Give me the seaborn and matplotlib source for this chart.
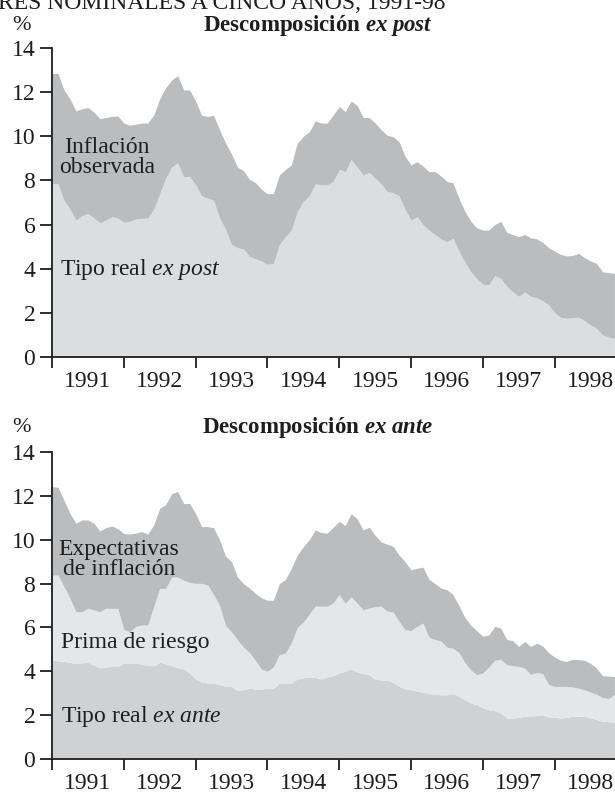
import numpy as np
import pandas as pd
import matplotlib
matplotlib.use("Agg")
import matplotlib.pyplot as plt
import seaborn as sns

nominal_expost = [12.85, 12.85, 12.1, 11.7, 11.15, 11.25, 11.3, 11.1, 10.8, 10.85,
                  10.9, 10.92, 10.6, 10.5, 10.55, 10.6, 10.6, 10.96, 11.7, 12.2,
                  12.55, 12.75, 12.1, 12.1, 11.6, 10.95, 10.9, 10.95, 10.3, 9.7,
                  9.2, 8.6, 8.45, 8.05, 7.9, 7.6, 7.4, 7.4, 8.25, 8.5,
                  8.7, 9.7, 10.0, 10.2, 10.7, 10.6, 10.6, 10.97, 11.35, 11.12,
                  11.6, 11.4, 10.85, 10.85, 10.6, 10.3, 10.05, 9.98, 9.76, 9.1,
                  8.7, 8.85, 8.65, 8.4, 8.4, 8.2, 7.95, 7.9, 7.2, 6.6,
                  6.15, 5.85, 5.75, 5.75, 6.0, 6.15, 5.65, 5.55, 5.45, 5.55,
                  5.4, 5.35, 5.2, 4.95, 4.8, 4.65, 4.58, 4.6, 4.7, 4.5,
                  4.35, 4.25, 3.86, 3.82, 3.79]
real_expost = [7.87, 7.85, 7.1, 6.7, 6.2, 6.4, 6.5, 6.3, 6.08, 6.2,
               6.35, 6.3, 6.1, 6.15, 6.25, 6.28, 6.3, 6.7, 7.4, 8.1,
               8.6, 8.8, 8.17, 8.17, 7.8, 7.3, 7.2, 7.1, 6.3, 5.8,
               5.1, 4.95, 4.9, 4.55, 4.45, 4.35, 4.2, 4.24, 5.1, 5.45,
               5.75, 6.6, 7.05, 7.3, 7.85, 7.8, 7.8, 7.95, 8.5, 8.4,
               8.95, 8.6, 8.25, 8.37, 8.1, 7.85, 7.5, 7.45, 7.3, 6.7,
               6.2, 6.36, 6.0, 5.75, 5.55, 5.35, 5.22, 5.38, 4.8, 4.3,
               3.86, 3.55, 3.3, 3.26, 3.7, 3.55, 3.2, 2.95, 2.75, 2.95,
               2.75, 2.68, 2.55, 2.36, 2.0, 1.8, 1.75, 1.78, 1.8, 1.65,
               1.45, 1.3, 1.0, 0.9, 0.85]

nominal_exante = [12.42, 12.39, 11.8, 11.2, 10.75, 10.9, 10.9, 10.75, 10.4, 10.55,
                  10.63, 10.5, 10.28, 10.26, 10.3, 10.37, 10.26, 10.67, 11.43, 11.6,
                  12.1, 12.2, 11.65, 11.65, 11.2, 10.6, 10.6, 10.55, 10.0, 9.25,
                  9.0, 8.3, 8.0, 7.8, 7.55, 7.35, 7.24, 7.24, 8.0, 8.18,
                  8.7, 9.3, 9.68, 10.0, 10.45, 10.33, 10.3, 10.57, 10.84, 10.64,
                  11.19, 10.95, 10.45, 10.57, 10.2, 9.9, 9.8, 9.7, 9.31, 9.0,
                  8.63, 8.7, 8.75, 8.2, 8.0, 7.8, 7.72, 7.5, 7.0, 6.45,
                  6.1, 5.85, 5.6, 5.66, 6.05, 5.97, 5.45, 5.4, 5.13, 5.36,
                  5.13, 5.28, 5.15, 4.85, 4.65, 4.5, 4.45, 4.55, 4.53, 4.5,
                  4.36, 4.15, 3.8, 3.78, 3.76]
real_plus_prima = [8.39, 8.39, 7.86, 7.33, 6.72, 6.72, 6.87, 6.8, 6.72, 6.87,
                   6.87, 6.87, 5.9, 5.8, 6.05, 6.11, 6.11, 6.95, 7.78, 7.78,
                   8.3, 8.3, 8.15, 8.05, 8.01, 8.01, 7.94, 7.5, 7.0, 6.1,
                   5.8, 5.44, 5.1, 4.85, 4.5, 4.1, 4.0, 4.2, 4.76, 4.83,
                   5.3, 6.0, 6.25, 6.6, 6.97, 6.97, 6.97, 7.12, 7.5, 7.1,
                   7.4, 7.1, 6.8, 6.89, 6.95, 6.97, 6.75, 6.7, 6.28, 5.9,
                   5.85, 6.05, 6.2, 5.55, 5.45, 5.38, 5.1, 5.05, 4.86, 4.4,
                   4.05, 3.85, 3.92, 4.2, 4.5, 4.55, 4.3, 4.25, 4.22, 4.14,
                   3.86, 3.94, 3.9, 3.4, 3.31, 3.31, 3.31, 3.28, 3.23, 3.15,
                   3.05, 2.95, 2.8, 2.75, 2.95]
real_exante = [4.53, 4.47, 4.45, 4.41, 4.35, 4.38, 4.41, 4.28, 4.16, 4.2,
               4.22, 4.22, 4.38, 4.38, 4.38, 4.31, 4.29, 4.25, 4.41, 4.35,
               4.26, 4.16, 4.11, 3.93, 3.65, 3.5, 3.47, 3.47, 3.4, 3.32,
               3.3, 3.13, 3.16, 3.23, 3.19, 3.19, 3.23, 3.23, 3.47, 3.47,
               3.47, 3.65, 3.7, 3.74, 3.72, 3.65, 3.75, 3.8, 3.93, 4.0,
               4.11, 3.96, 3.9, 3.86, 3.65, 3.6, 3.6, 3.5, 3.32, 3.19,
               3.16, 3.1, 3.05, 2.98, 2.95, 2.93, 2.93, 2.98, 2.86, 2.7,
               2.55, 2.48, 2.33, 2.25, 2.2, 2.1, 1.87, 1.87, 1.9, 1.95,
               1.97, 1.98, 2.02, 1.92, 1.9, 1.87, 1.9, 1.95, 1.95, 1.95,
               1.87, 1.8, 1.72, 1.7, 1.67]

years = [1991, 1992, 1993, 1994, 1995, 1996, 1997, 1998]
yticks = [0, 2, 4, 6, 8, 10, 12, 14]

df = pd.DataFrame({
    "t": 1991 + np.arange(len(nominal_expost)) / 12,
    "nominal_expost": nominal_expost,
    "real_expost": real_expost,
    "nominal_exante": nominal_exante,
    "real_plus_prima": real_plus_prima,
    "real_exante": real_exante,
})

sns.set_theme(style="ticks")
plt.rcParams["font.family"] = ["Liberation Serif", "DejaVu Serif"]
plt.rcParams["mathtext.fontset"] = "custom"
plt.rcParams["mathtext.rm"] = "Liberation Serif"
plt.rcParams["mathtext.it"] = "Liberation Serif:italic"
plt.rcParams["mathtext.bf"] = "Liberation Serif:bold"
plt.rcParams["mathtext.bfit"] = "Liberation Serif:italic:bold"

DARK = "#bbbcbe"
LIGHT = "#dcdde0"
MID = "#d0d1d3"
PALE = "#e5e6e8"
INK = "#1e1e1e"

W, H = 615, 795
fig = plt.figure(figsize=(W / 100, H / 100), dpi=100)
ax1 = fig.add_axes([52 / W, 1 - 357 / H, 1 - 52 / W, 309 / H])
ax2 = fig.add_axes([52 / W, 1 - 759 / H, 1 - 52 / W, 307 / H])

# ex post: real rate + observed inflation
ax1.fill_between(df.t, 0, df.real_expost, color=LIGHT, lw=0)
ax1.fill_between(df.t, df.real_expost, df.nominal_expost, color=DARK, lw=0)

# ex ante: real rate + risk premium + expected inflation
ax2.fill_between(df.t, 0, df.real_exante, color=MID, lw=0)
ax2.fill_between(df.t, df.real_exante, df.real_plus_prima, color=PALE, lw=0)
ax2.fill_between(df.t, df.real_plus_prima, df.nominal_exante, color=DARK, lw=0)

for ax in (ax1, ax2):
    ax.set_xlim(1991, 1991 + (615 - 52) / 71.8)
    ax.set_ylim(0, 14)
    ax.set_yticks(yticks)
    ax.set_xticks(years)
    ax.set_xticklabels([])
    ax.set_xticks([y + 0.5 for y in years], minor=True)
    ax.set_xticklabels([str(y) for y in years], minor=True)
    ax.tick_params(axis="x", which="major", length=8, width=1.3, color=INK, direction="out")
    ax.tick_params(axis="x", which="minor", length=0, pad=10, labelsize=17, labelcolor=INK)
    ax.tick_params(axis="y", length=9, width=1.3, color=INK, pad=3, labelsize=17, labelcolor=INK)
    for s in ("left", "bottom"):
        ax.spines[s].set_linewidth(1.3)
        ax.spines[s].set_color(INK)
        ax.spines[s].set_zorder(5)
    sns.despine(ax=ax)
    ax.set_xlabel("")
    ax.set_ylabel("")

lab = dict(fontsize=17, color=INK)
ax1.text(1991.77, 9.05, "Inflación\nobservada", ha="center", va="center", linespacing=0.95, **lab)
ax1.text(1991.11, 3.95, r"Tipo real $\mathit{ex\ post}$", ha="left", va="center", **lab)

ax2.text(1991.93, 9.1, "Expectativas\nde inflación", ha="center", va="center", linespacing=0.92, **lab)
ax2.text(1991.13, 5.3, "Prima de riesgo", ha="left", va="center", **lab)
ax2.text(1991.13, 1.95, r"Tipo real $\mathit{ex\ ante}$", ha="left", va="center", **lab)

# panel headers
fig.text(318 / W, 1 - 25 / H, r"Descomposición $\mathbfit{ex\ post}$", ha="center", va="center",
         fontsize=16.5, fontweight="bold", color=INK)
fig.text(318 / W, 1 - 428 / H, r"Descomposición $\mathbfit{ex\ ante}$", ha="center", va="center",
         fontsize=16.5, fontweight="bold", color=INK)
fig.text(12 / W, 1 - 25 / H, "%", ha="left", va="center", fontsize=16, color=INK)
fig.text(12 / W, 1 - 428 / H, "%", ha="left", va="center", fontsize=16, color=INK)

# caption line, cropped at the very top as in the original page
fig.text(-2 / W, 1 - 9 / H, "RES NOMINALES A CINCO AÑOS, 1991-98", ha="left", va="baseline",
         fontsize=17, color=INK)

fig.savefig("out.png", dpi=100)
